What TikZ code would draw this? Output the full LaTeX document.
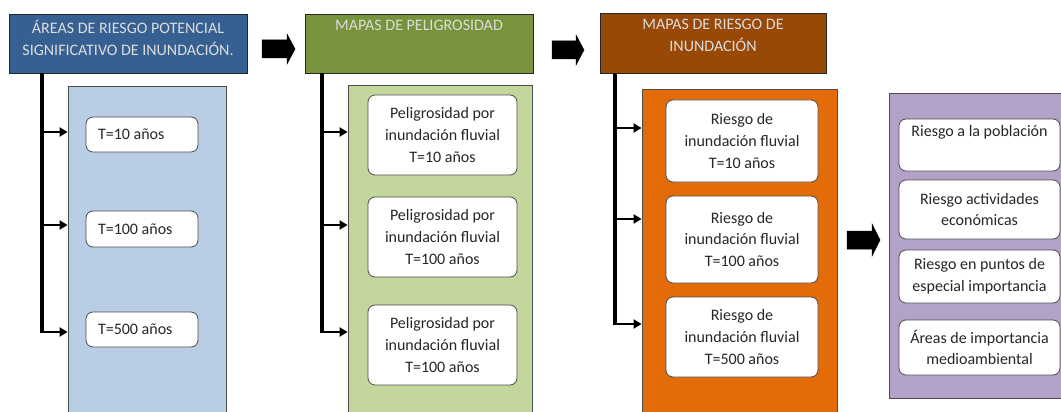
\documentclass[tikz,border=0pt]{standalone}
\usepackage{fontspec}
\setmainfont{Carlito}
\usetikzlibrary{arrows.meta}
\definecolor{tblue}{HTML}{376092}
\definecolor{pblue}{HTML}{B9CDE5}
\definecolor{tgreen}{HTML}{77933C}
\definecolor{pgreen}{HTML}{C3D69B}
\definecolor{tbrown}{HTML}{984807}
\definecolor{porange}{HTML}{E36C09}
\definecolor{ppurple}{HTML}{B3A2C7}
\definecolor{ttext}{HTML}{DCDCDC}
\definecolor{btext}{HTML}{262626}
\begin{document}
\begin{tikzpicture}[x=1pt,y=-1pt,
  titlebox/.style={draw=black!85, line width=0.8pt, inner sep=0pt},
  titletext/.style={text=ttext, align=center, inner sep=0pt, font=\fontsize{16}{22}\selectfont},
  panel/.style={draw=black!70, line width=0.8pt, inner sep=0pt},
  itembox/.style={draw=black!70, fill=white, line width=0.8pt, rounded corners=7pt, text=btext,
     font=\fontsize{16}{21.7}\selectfont, align=center, inner sep=0pt},
  smallitem/.style={itembox, minimum width=112pt, text width=88pt, align=flush left},
  trunk/.style={line width=3.6pt},
  branch/.style={line width=2pt, -{Triangle[length=8pt,width=9pt]}},
  bigarrow/.style={fill=black, draw=black, line width=0.5pt}
]
\useasboundingbox (0,0) rectangle (1061,412);

% ---------- titles ----------
\node[titlebox, fill=tblue, minimum width=238pt, minimum height=59pt] (t1) at (128,43.5) {};
\node[titletext, anchor=north] (tt1) at ([yshift=-6.5pt]t1.north) {ÁREAS DE RIESGO POTENCIAL\\SIGNIFICATIVO DE INUNDACIÓN.};
\node[titlebox, fill=tgreen, minimum width=228pt, minimum height=59pt] (t2) at (419,43.5) {};
\node[titletext, anchor=north] (tt2) at ([yshift=-6.5pt]t2.north) {MAPAS DE PELIGROSIDAD};
\node[titlebox, fill=tbrown, minimum width=226pt, minimum height=60pt] (t3) at (713,43) {};
\node[titletext, anchor=north] (tt3) at ([yshift=-6.5pt]t3.north) {MAPAS DE RIESGO DE\\INUNDACIÓN};

% ---------- panels ----------
\node[panel, fill=pblue, minimum width=158pt, minimum height=334pt] (p1) at (147,253) {};
\node[panel, fill=pgreen, minimum width=184pt, minimum height=335pt] (p2) at (440,252.5) {};
\node[panel, fill=porange, minimum width=195pt, minimum height=331pt] (p3) at (739.5,254.5) {};
\node[panel, fill=ppurple, minimum width=191pt, minimum height=305pt] (p4) at (984.5,245.5) {};

% ---------- items column 1 ----------
\node[smallitem, minimum height=35pt] (a1) at (142,134.5) {T=10 años};
\node[smallitem, minimum height=36pt] (a2) at (142,229) {T=100 años};
\node[smallitem, minimum height=35pt] (a3) at (142,329.5) {T=500 años};

% ---------- items column 2 ----------
\node[itembox, minimum width=149pt, minimum height=80pt] (b1) at (442.5,135) {Peligrosidad por\\inundación fluvial\\T=10 años};
\node[itembox, minimum width=149pt, minimum height=80pt] (b2) at (442.5,237) {Peligrosidad por\\inundación fluvial\\T=100 años};
\node[itembox, minimum width=149pt, minimum height=80pt] (b3) at (442.5,345) {Peligrosidad por\\inundación fluvial\\T=100 años};

% ---------- items column 3 ----------
\node[itembox, minimum width=152pt, minimum height=82pt] (c1) at (742,141) {Riesgo de\\inundación fluvial\\T=10 años};
\node[itembox, minimum width=152pt, minimum height=87pt] (c2) at (742,239.5) {Riesgo de\\inundación fluvial\\T=100 años};
\node[itembox, minimum width=152pt, minimum height=80pt] (c3) at (742,337) {Riesgo de\\inundación fluvial\\T=500 años};

% ---------- items column 4 ----------
\node[itembox, minimum width=161pt, minimum height=52pt] (d1) at (979.5,145) {Riesgo a la población\\\strut};
\node[itembox, minimum width=161pt, minimum height=59pt] (d2) at (979.5,209.5) {Riesgo actividades\\económicas};
\node[itembox, minimum width=161pt, minimum height=53pt] (d3) at (979.5,276.5) {Riesgo en puntos de\\especial importancia};
\node[itembox, minimum width=161pt, minimum height=55pt] (d4) at (979.5,347.5) {Áreas de importancia\\medioambiental};

% ---------- trunks and branches ----------
\coordinate (v1) at (42,73);
\coordinate (j11) at (42,132);
\coordinate (j12) at (42,225);
\coordinate (j13) at (42,332);
\draw[trunk] (v1) -- ([yshift=-1pt]j13);
\draw[branch] (j11) -- (j11 -| p1.west);
\draw[branch] (j12) -- (j12 -| p1.west);
\draw[branch] ([xshift=-1.8pt]j13) -- (j13 -| p1.west);

\coordinate (v2) at (322,73);
\coordinate (j21) at (322,132);
\coordinate (j22) at (322,225);
\coordinate (j23) at (322,332);
\draw[trunk] (v2) -- ([yshift=-1pt]j23);
\draw[branch] (j21) -- (j21 -| p2.west);
\draw[branch] (j22) -- (j22 -| p2.west);
\draw[branch] ([xshift=-1.8pt]j23) -- (j23 -| p2.west);

\coordinate (v3) at (615,73);
\coordinate (j31) at (615,128);
\coordinate (j32) at (615,219);
\coordinate (j33) at (615,324);
\draw[trunk] (v3) -- ([yshift=-1pt]j33);
\draw[branch] (j31) -- (j31 -| p3.west);
\draw[branch] (j32) -- (j32 -| p3.west);
\draw[branch] ([xshift=-1.8pt]j33) -- (j33 -| p3.west);

% ---------- block arrows ----------
\draw[bigarrow] (262,40) -- (287,40) -- (287,34) -- (295,49) -- (287,64) -- (287,58) -- (262,58) -- cycle;
\draw[bigarrow] (552,41) -- (576,41) -- (576,35) -- (584,50) -- (576,65) -- (576,59) -- (552,59) -- cycle;
\draw[bigarrow] (847,231) -- (872,231) -- (872,224) -- (880,240) -- (872,256) -- (872,249) -- (847,249) -- cycle;
\end{tikzpicture}
\end{document}
